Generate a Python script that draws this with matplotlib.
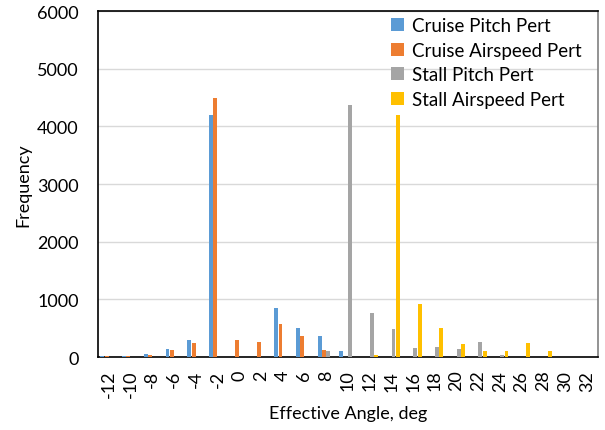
import numpy as np
import matplotlib.pyplot as plt

angles = list(range(-12, 33, 2))

cruise_pitch = [15, 12, 55, 135, 290, 4200, 0, 0, 860, 500, 370, 115, 0,
                0, 0, 0, 0, 0, 0, 0, 0, 0, 0]
cruise_airspeed = [12, 15, 45, 120, 250, 4500, 300, 255, 580, 360, 130, 0, 0,
                   0, 0, 0, 0, 0, 0, 0, 0, 0, 0]
stall_pitch = [0, 0, 0, 0, 8, 0, 0, 0, 0, 0, 105, 4380, 770,
               480, 165, 170, 150, 255, 30, 0, 0, 0, 0]
stall_airspeed = [0, 0, 0, 0, 0, 0, 0, 0, 0, 0, 0, 0, 35,
                  4200, 920, 505, 230, 100, 115, 245, 100, 10, 10]

series = [
    ("Cruise Pitch Pert", cruise_pitch, "#5B9BD5"),
    ("Cruise Airspeed Pert", cruise_airspeed, "#ED7D31"),
    ("Stall Pitch Pert", stall_pitch, "#A5A5A5"),
    ("Stall Airspeed Pert", stall_airspeed, "#FFC000"),
]

plt.rcParams['font.family'] = ['Lato', 'DejaVu Sans']

fig = plt.figure(figsize=(6.05, 4.31), dpi=100)
ax = fig.add_axes([0.162, 0.169, 0.826, 0.803])

x = np.arange(len(angles))
w = 0.2
for i, (name, vals, col) in enumerate(series):
    ax.bar(x + (i - 1.5) * w, vals, width=w * 0.9, color=col, label=name,
           linewidth=0, zorder=3)

ax.set_xlim(-0.5, len(angles) - 0.5)
ax.set_ylim(0, 6000)
ax.set_yticks(range(0, 6001, 1000))
ax.set_xticks(x)
ax.set_xticklabels([str(a) for a in angles], rotation=90, fontsize=13)
ax.tick_params(axis='y', length=0, pad=14, labelsize=13)
ax.tick_params(axis='x', length=0, pad=9)
ax.yaxis.grid(True, color='#D9D9D9', linewidth=1, zorder=0)
ax.set_axisbelow(True)

for s in ['left', 'bottom', 'top']:
    ax.spines[s].set_color('black')
    ax.spines[s].set_linewidth(1.2)
ax.spines['right'].set_color('#808080')
ax.spines['right'].set_linewidth(1.2)

ax.set_xlabel("Effective Angle, deg", fontsize=13, labelpad=6)
ax.set_ylabel("Frequency", fontsize=13, labelpad=4)

ax.legend(loc='upper left', bbox_to_anchor=(0.56, 1.02), frameon=False,
          fontsize=13.5, handlelength=0.7, handleheight=0.7, handletextpad=0.4,
          labelspacing=0.4, borderaxespad=0.3)

fig.savefig("out.png", dpi=100)
